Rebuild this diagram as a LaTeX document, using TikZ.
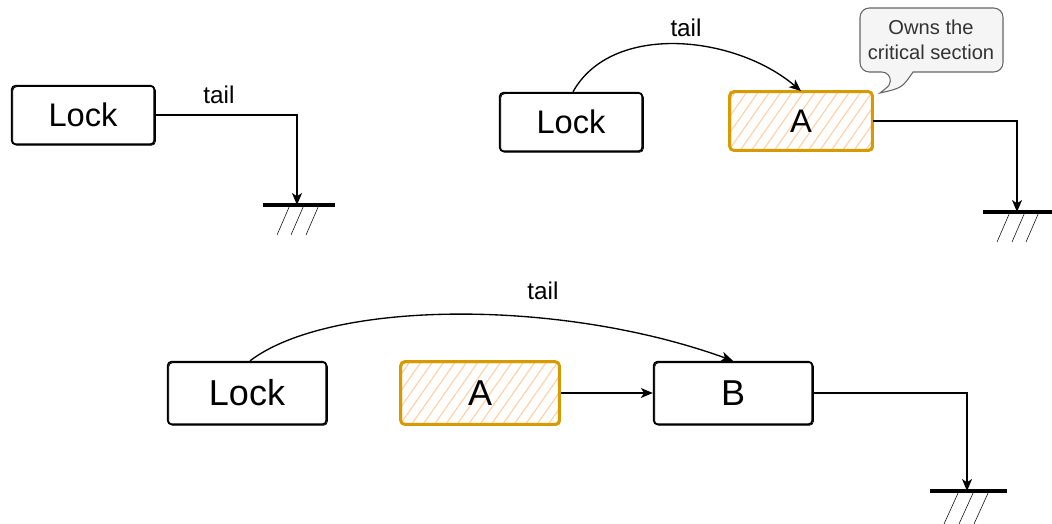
\documentclass[tikz,border=0pt]{standalone}
\usepackage{fontspec}
\setmainfont{Liberation Sans}
\usetikzlibrary{arrows.meta,patterns.meta}

\definecolor{accent}{HTML}{D79B00}
\definecolor{hatchc}{HTML}{FFD2A8}
\definecolor{callfill}{HTML}{F5F5F5}
\definecolor{callline}{HTML}{666666}
\definecolor{calltext}{HTML}{333333}

\tikzset{
  blk/.style={draw, line width=1.3pt, rounded corners=3pt,
    minimum width=107pt, minimum height=44pt, inner sep=0pt,
    font=\fontsize{24.5}{28}\selectfont,
    postaction={draw, line width=0.6pt, rounded corners=3pt,
      transform canvas={shift={(0.8pt,-0.7pt)}}}},
  wide/.style={minimum width=119pt, minimum height=47pt,
    font=\fontsize{27}{30}\selectfont},
  owned/.style={draw=accent, line width=2.2pt,
    pattern={Lines[angle=55,distance=7pt,line width=0.9pt]}, pattern color=hatchc,
    postaction={draw=accent, line width=0.6pt}},
  lbl/.style={font=\fontsize{18.2}{20}\selectfont},
  link/.style={line width=1pt, -{Stealth[length=9pt,width=7.5pt,inset=2.5pt]}},
  bar/.style={line width=2.3pt},
}

\begin{document}
\begin{tikzpicture}[x=0.75pt,y=-0.75pt]
  \useasboundingbox (0,0) rectangle (1052,524);

  % empty queue
  \node[blk] (lock1) at (83,115) {Lock};
  \coordinate (g1) at (297,205);
  \draw[link] (lock1.east) -- (g1 |- lock1.east) -- (g1);
  \node[lbl] (tail1) at (219,95) {tail};
  \draw[bar] (g1) ++(-34,0) -- ++(72,0);
  \foreach \d in {-7,7,22} \draw (g1) ++(\d,0) -- ++(-13,30);

  % one waiter
  \node[blk] (lock2) at (571,122) {Lock};
  \node[blk,owned] (a2) at (801,121) {A};
  \coordinate (g2) at (1017,212);
  \draw[link] (lock2.north) ++(2,0) .. controls (612,22) and (735,35) .. (a2.north);
  \node[lbl] (tail2) at (686,28) {tail};
  \draw[link] (a2.east) -- (g2 |- a2.east) -- (g2);
  \draw[bar] (g2) ++(-34,0) -- ++(72,0);
  \foreach \d in {-7,8,22} \draw (g2) ++(\d,0) -- ++(-13,30);

  \draw[callline, fill=callfill, line width=0.8pt, rounded corners=7pt]
    (913,72) -- (1003,72) -- (1003,8) -- (860,8) -- (860,72) -- (891,72)
    [sharp corners] .. controls (890,85) .. (880,93) .. controls (902,88) .. (913,72) -- cycle;
  \node[text=calltext, align=center, font=\fontsize{15.1}{18.8}\selectfont]
    (note) at (931,40) {Owns the\\critical section};

  % two waiters
  \node[blk,wide] (lock3) at (247,393) {Lock};
  \node[blk,wide,owned] (a3) at (480,393) {A};
  \node[blk,wide] (b3) at (733,393) {B};
  \coordinate (g3) at (967,491);
  \draw[link] (lock3.north) ++(3,0) .. controls (330,300) and (560,298) .. (b3.north);
  \node[lbl] (tail3) at (543,291) {tail};
  \draw[link] (a3.east) -- (b3.west);
  \draw[link] (b3.east) -- (g3 |- b3.east) -- (g3);
  \draw[bar] (g3) ++(-37,0) -- ++(77,0);
  \foreach \d in {-8,7,22} \draw (g3) ++(\d,0) -- ++(-15,33);
\end{tikzpicture}
\end{document}
